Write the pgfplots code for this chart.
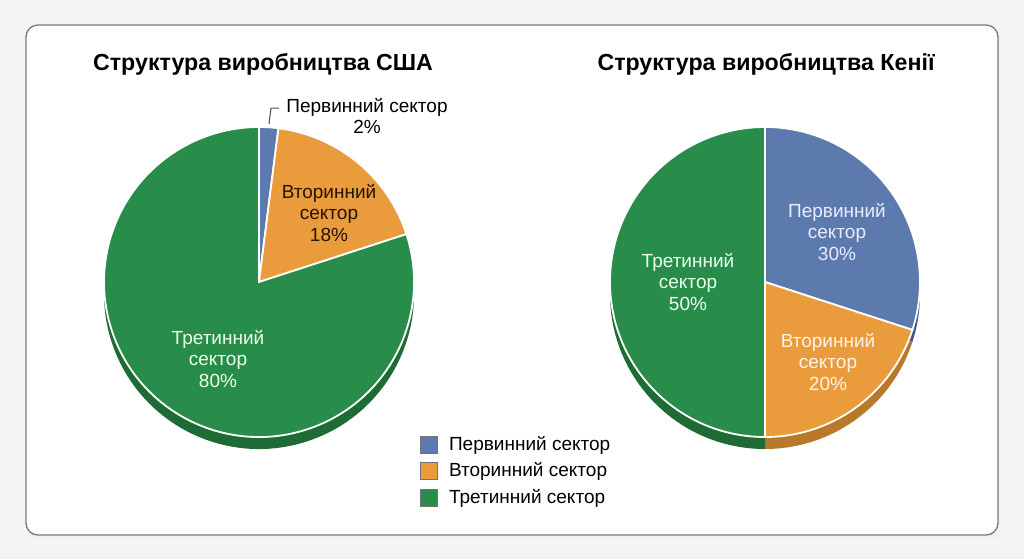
\documentclass[border=0pt]{standalone}
\usepackage{pgfplots}
\usepackage{pgfplotstable}
\pgfplotsset{compat=1.18}
\usepackage{fontspec}
\setmainfont{Liberation Sans}
\definecolor{cblue}{HTML}{5C7AAE}
\definecolor{corange}{HTML}{EA9B3C}
\definecolor{cgreen}{HTML}{288C4A}
\definecolor{dblue}{HTML}{3F5A88}
\definecolor{dorange}{HTML}{B87A2A}
\definecolor{dgreen}{HTML}{1E6B36}
\definecolor{bg}{HTML}{F4F4F4}
\definecolor{frame}{HTML}{7A7A7A}

\pgfplotstableread{
sector value
1 2
2 18
3 80
}\usdata
\pgfplotstableread{
sector value
1 30
2 20
3 50
}\kedata

% radius 155 px = 77.5pt ; 1 px = 0.5pt
\newcommand\R{77.5pt}
\newcommand\slice[5]{% cx, cy, start, end, style
  \fill[#5] (axis cs:#1,#2) -- ++(#3:\R) arc[start angle=#3,end angle=#4,radius=\R] -- cycle;}
\newcommand\sliceshadow[5]{%
  \fill[#5] (axis cs:#1,#2) ++(0pt,-6pt) -- ++(#3:\R) arc[start angle=#3,end angle=#4,radius=\R] -- cycle;}

\begin{document}
\begin{tikzpicture}
% angles from data
\pgfplotstablegetelem{0}{value}\of\usdata \pgfmathsetmacro\uA{90-3.6*\pgfplotsretval}
\pgfplotstablegetelem{1}{value}\of\usdata \pgfmathsetmacro\uB{\uA-3.6*\pgfplotsretval}
\pgfplotstablegetelem{2}{value}\of\usdata \pgfmathsetmacro\uC{\uB-3.6*\pgfplotsretval}
\pgfplotstablegetelem{0}{value}\of\kedata \pgfmathsetmacro\kA{90-3.6*\pgfplotsretval}
\pgfplotstablegetelem{1}{value}\of\kedata \pgfmathsetmacro\kB{\kA-3.6*\pgfplotsretval}
\pgfplotstablegetelem{2}{value}\of\kedata \pgfmathsetmacro\kC{\kB-3.6*\pgfplotsretval}
\begin{axis}[scale only axis, width=512pt, height=279.5pt,
  xmin=0, xmax=1024, ymin=0, ymax=559, y dir=reverse,
  hide axis, clip=false]
\fill[bg] (axis cs:0,0) rectangle (axis cs:1024,559);
\fill[black!6] (axis cs:28,28) rectangle (axis cs:1001,538);
\draw[frame, fill=white, line width=0.65pt, rounded corners=6pt] (axis cs:26,25) rectangle (axis cs:998,535);

% titles
\node[font=\bfseries\fontsize{11.6}{13}\selectfont] at (axis cs:263,64) {Структура виробництва США};
\node[font=\bfseries\fontsize{11.6}{13}\selectfont] at (axis cs:766,64) {Структура виробництва Кенії};

% US pie
\sliceshadow{259}{282}{90}{\uA}{dblue}
\sliceshadow{259}{282}{\uA}{\uB}{dorange}
\sliceshadow{259}{282}{\uB}{\uC}{dgreen}
\slice{259}{282}{90}{\uA}{cblue,draw=white,line width=0.9pt}
\slice{259}{282}{\uA}{\uB}{corange,draw=white,line width=0.9pt}
\slice{259}{282}{\uB}{\uC}{cgreen,draw=white,line width=0.9pt}

% Kenya pie
\sliceshadow{765}{282}{90}{\kA}{dblue}
\sliceshadow{765}{282}{\kA}{\kB}{dorange}
\sliceshadow{765}{282}{\kB}{\kC}{dgreen}
\slice{765}{282}{90}{\kA}{cblue,draw=white,line width=0.9pt}
\slice{765}{282}{\kA}{\kB}{corange,draw=white,line width=0.9pt}
\slice{765}{282}{\kB}{\kC}{cgreen,draw=white,line width=0.9pt}

% labels
\tikzset{lbl/.style={align=center, font=\fontsize{9.5}{10.8}\selectfont}}
\draw[black!70, line width=0.5pt] (axis cs:269,124) -- (axis cs:271,108) -- (axis cs:279,108);
\node[lbl] at (axis cs:367,116) {Первинний сектор\\2\%};
\node[lbl, text=black!85!orange] at (axis cs:329,213) {Вторинний\\сектор\\18\%};
\node[lbl, text=white!92!green] at (axis cs:218,359) {Третинний\\сектор\\80\%};
\node[lbl, text=white!92!blue] at (axis cs:837,232) {Первинний\\сектор\\30\%};
\node[lbl, text=white!92!orange] at (axis cs:828,362) {Вторинний\\сектор\\20\%};
\node[lbl, text=white!92!green] at (axis cs:688,282) {Третинний\\сектор\\50\%};

% legend
\fill[cblue, draw=black!55, line width=0.4pt] (axis cs:420,436) rectangle (axis cs:437,453);
\fill[corange, draw=black!55, line width=0.4pt] (axis cs:420,462) rectangle (axis cs:437,479);
\fill[cgreen, draw=black!55, line width=0.4pt] (axis cs:420,489) rectangle (axis cs:437,506);
\tikzset{leg/.style={anchor=west, font=\fontsize{9.5}{10}\selectfont}}
\node[leg] at (axis cs:442,445) {Первинний сектор};
\node[leg] at (axis cs:442,471) {Вторинний сектор};
\node[leg] at (axis cs:442,498) {Третинний сектор};
\end{axis}
\end{tikzpicture}
\end{document}
